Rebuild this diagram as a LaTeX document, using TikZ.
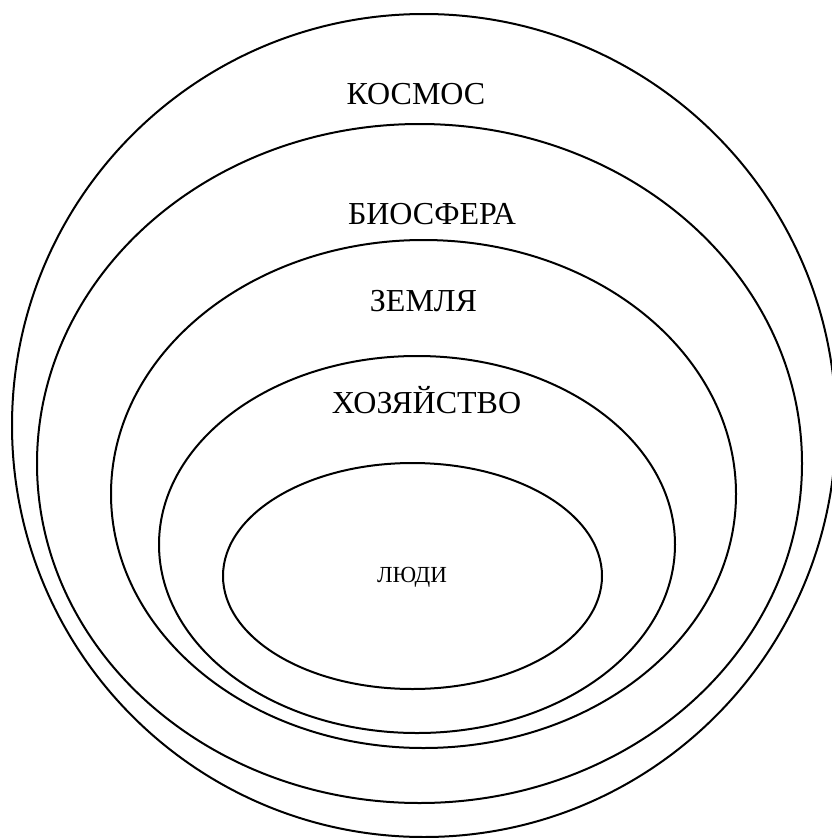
\documentclass[tikz,border=0pt]{standalone}
\usepackage{fontspec}
\setmainfont{Liberation Serif}
\begin{document}
\begin{tikzpicture}[x=1pt,y=-1pt,
  ring/.style={draw=black, line width=2pt},
  biglbl/.style={font=\fontsize{32}{36}\selectfont, inner sep=0pt, anchor=base},
  smalllbl/.style={font=\fontsize{23}{27}\selectfont, inner sep=0pt, anchor=base}]
\useasboundingbox (0,0) rectangle (832,838);
\clip (0,0) rectangle (832,838);
\fill[white] (0,0) rectangle (832,838);
% rings
\draw[ring] (424,425.5) ellipse [x radius=412pt, y radius=411.5pt];
\draw[ring] (419.5,463.5) ellipse [x radius=382.5pt, y radius=339.5pt];
\draw[ring] (423.5,494) ellipse [x radius=312.5pt, y radius=254pt];
\draw[ring] (417,544.5) ellipse [x radius=258pt, y radius=188.5pt];
\draw[ring] (412.5,576) ellipse [x radius=189.5pt, y radius=113pt];
% labels
\node[biglbl] (kosmos) at (416,104) {КОСМОС};
\node[biglbl] (biosfera) at (432,224) {БИОСФЕРА};
\node[biglbl] (zemlya) at (423.5,311) {ЗЕМЛЯ};
\node[biglbl] (hoz) at (426.5,413) {ХОЗЯЙСТВО};
\node[smalllbl] (lyudi) at (412,582) {ЛЮДИ};
\end{tikzpicture}
\end{document}
